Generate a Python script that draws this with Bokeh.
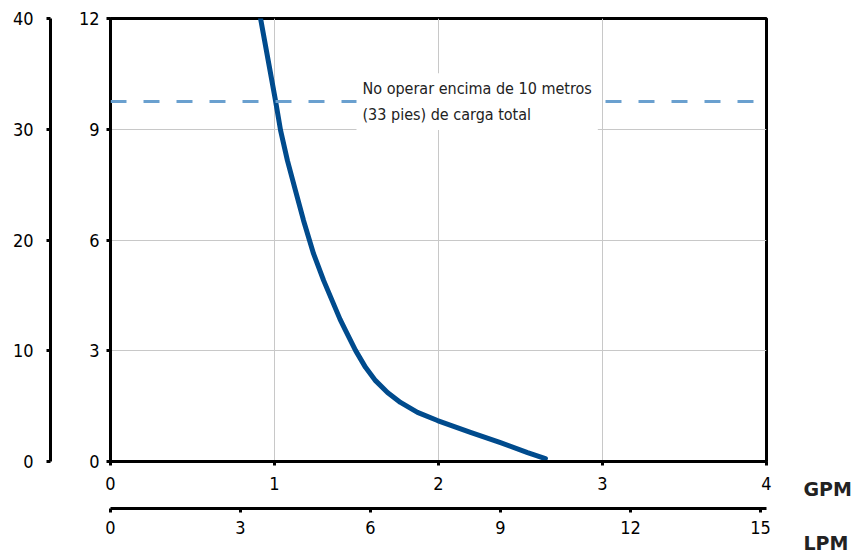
from bokeh.plotting import figure
from bokeh.layouts import row
from bokeh.models import (LinearAxis, Range1d, FixedTicker, Label, ColumnDataSource, Span)
from bokeh.embed import file_html
from bokeh.resources import INLINE

# ---- data ----
gpm_flow = [0.915, 1.006, 1.037, 1.079, 1.128, 1.177, 1.238, 1.30, 1.40, 1.433,
            1.494, 1.555, 1.616, 1.689, 1.768, 1.872, 1.994, 2.195, 2.378, 2.543, 2.652]
head_m = [12.0, 9.78, 8.97, 8.15, 7.34, 6.53, 5.63, 4.90, 3.85, 3.55,
          3.01, 2.55, 2.19, 1.87, 1.60, 1.33, 1.11, 0.79, 0.51, 0.24, 0.08]
gpm_ticks = [0, 1, 2, 3, 4]
lpm_ticks = [0, 3, 6, 9, 12, 15]
m_ticks = [0, 3, 6, 9, 12]
ft_ticks = [0, 10, 20, 30, 40]
max_head_m = 9.75
note_text = "No operar encima de 10 metros\n(33 pies) de carga total"
unit_labels = ["GPM", "LPM"]

FONT = "DejaVu Sans Condensed"

p = figure(width=774, height=554, output_backend="svg", toolbar_location=None,
           x_range=Range1d(0, 4), y_range=Range1d(0, 12),
           min_border_left=110, min_border_top=18, min_border_right=8,
           min_border_bottom=93)
p.extra_x_ranges = {"lpm": Range1d(0, 4 * 3.785)}
p.extra_y_ranges = {"ft": Range1d(0, 40)}

p.outline_line_color = "black"
p.outline_line_width = 3
p.outline_line_alpha = 1

def style_axis(ax, standoff):
    ax.axis_line_width = 3
    ax.axis_line_color = "black"
    ax.major_tick_line_width = 3
    ax.major_tick_line_color = "black"
    ax.major_tick_out = 4
    ax.major_tick_in = 0
    ax.minor_tick_line_color = None
    ax.major_label_text_font = FONT
    ax.major_label_text_font_size = "18px"
    ax.major_label_text_color = "black"
    ax.major_label_standoff = standoff

# meters axis (default, inner)
yax = p.yaxis[0]
yax.ticker = FixedTicker(ticks=m_ticks)
style_axis(yax, 7)
yax.axis_label = " "
yax.axis_label_text_font_size = "10px"
yax.axis_label_standoff = 11

# feet axis (outer)
ft_axis = LinearAxis(y_range_name="ft", ticker=FixedTicker(ticks=ft_ticks))
style_axis(ft_axis, 13)
p.add_layout(ft_axis, "left")

# GPM axis
xax = p.xaxis[0]
xax.ticker = FixedTicker(ticks=gpm_ticks)
style_axis(xax, 11)
xax.axis_label = " "
xax.axis_label_text_font_size = "10px"
xax.axis_label_standoff = 2

lpm_axis = LinearAxis(x_range_name="lpm", ticker=FixedTicker(ticks=lpm_ticks))
style_axis(lpm_axis, 8)
p.add_layout(lpm_axis, "below")

p.xgrid.ticker = FixedTicker(ticks=gpm_ticks[1:-1])
p.ygrid.ticker = FixedTicker(ticks=m_ticks[1:-1])
p.grid.grid_line_color = "#c8c8c8"
p.grid.grid_line_width = 1

# dashed max line
p.add_layout(Span(location=max_head_m, dimension="width", line_color="#6aa0cf",
                  line_width=3, line_dash="16 17"))

# curve
src = ColumnDataSource(dict(x=gpm_flow, y=head_m))
p.line("x", "y", source=src, line_color="#004b8d", line_width=5,
       line_cap="round", line_join="round")

# note
p.add_layout(Label(x=1.50, y=max_head_m, text=note_text, text_font=FONT,
                   text_font_size="16px", text_baseline="middle", text_align="left",
                   text_color="#222222", text_line_height=1.35,
                   background_fill_color="white", padding=6))

p.background_fill_color = "white"
p.border_fill_color = "white"

# side panel holding the unit labels
q = figure(width=81, height=554, output_backend="svg", toolbar_location=None,
           x_range=Range1d(0, 81), y_range=Range1d(554, 0),
           min_border=0, min_border_left=0, min_border_right=0,
           min_border_top=0, min_border_bottom=0)
q.frame_align = False
q.axis.visible = False
q.grid.visible = False
q.outline_line_color = None
q.background_fill_color = "white"
q.border_fill_color = "white"
for lab, yy in zip(unit_labels, [488, 542]):
    q.add_layout(Label(x=29, y=yy, text=lab, text_font="DejaVu Sans",
                       text_font_style="bold", text_font_size="19px",
                       text_baseline="middle", text_align="left",
                       text_color="#222222"))

layout = row(p, q, spacing=0)
open("out.html", "w").write(file_html(layout, INLINE))
